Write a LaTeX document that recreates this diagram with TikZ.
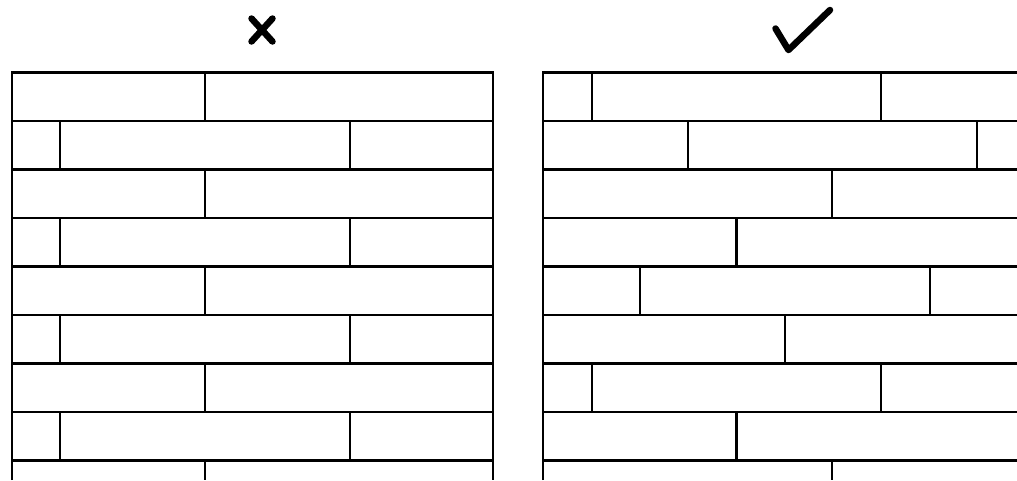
\documentclass[tikz,border=0pt]{standalone}
\begin{document}
\begin{tikzpicture}[x=1pt,y=-1pt,
  plank/.style={line width=2.8pt,black},
  sign/.style={line width=6.5pt,line cap=round,line join=round,black}]
\useasboundingbox (0,0) rectangle (1017,480);
\fill[white] (0,0) rectangle (1017,480);
\begin{scope}
\clip (0,0) rectangle (1017,480);
% ---------- left panel ----------
\draw[plank] (12,480) -- (12,72.5) -- (493,72.5) -- (493,480);
\foreach \y in {121,169.5,218,266.5,315,363.5,412,460.5}
  \draw[plank] (12,\y) -- (493,\y);
% odd rows: joint at 205
\foreach \t/\b in {72.5/121,169.5/218,266.5/315,363.5/412,460.5/480}
  \draw[plank] (205,\t) -- (205,\b);
% even rows: joints at 60 and 350
\foreach \t/\b in {121/169.5,218/266.5,315/363.5,412/460.5}{
  \draw[plank] (60,\t) -- (60,\b);
  \draw[plank] (350,\t) -- (350,\b);}
% ---------- right panel ----------
\draw[plank] (543,480) -- (543,72.5) -- (1020,72.5);
\foreach \y in {121,169.5,218,266.5,315,363.5,412,460.5}
  \draw[plank] (543,\y) -- (1020,\y);
\foreach \x/\t/\b in {592/72.5/121, 881/72.5/121,
                      688/121/169.5, 977/121/169.5,
                      832/169.5/218,
                      736.5/218/266.5,
                      640/266.5/315, 930/266.5/315,
                      785/315/363.5,
                      592/363.5/412, 881/363.5/412,
                      736.5/412/460.5,
                      832/460.5/480}
  \draw[plank] (\x,\t) -- (\x,\b);
\end{scope}
% ---------- marks ----------
\draw[sign] (251.5,18.5) -- (272.5,41.5);
\draw[sign] (272.5,18.5) -- (251.5,41.5);
\draw[sign] (775.5,28.5) -- (788.5,50) -- (830,10);
\end{tikzpicture}
\end{document}
